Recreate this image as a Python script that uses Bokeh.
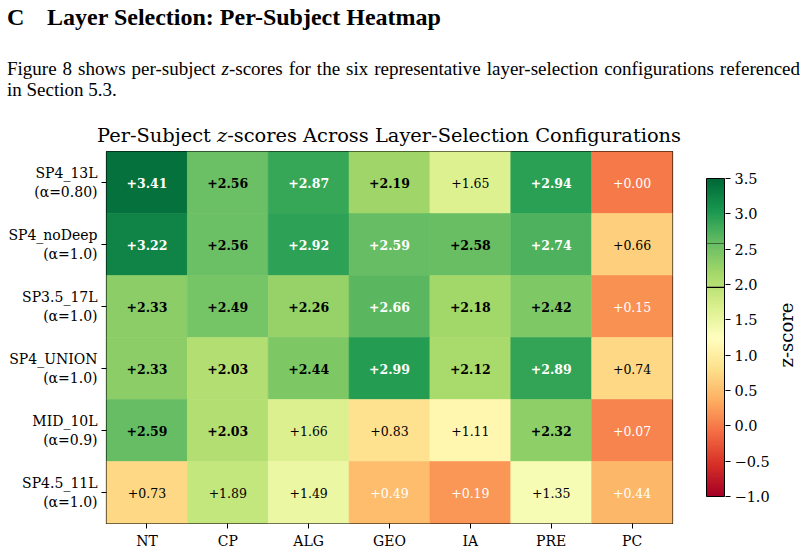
import numpy as np
from bokeh.plotting import figure
from bokeh.models import (ColumnDataSource, LinearColorMapper, FixedTicker,
                          Range1d, FactorRange, Div)
from bokeh.layouts import column, row
from bokeh.transform import transform
from bokeh.core.properties import value
from bokeh.embed import file_html
from bokeh.resources import INLINE

# ---------------- data ----------------
subjects = ["NT", "CP", "ALG", "GEO", "IA", "PRE", "PC"]
configs = [
    "SP4_13L\n(α=0.80)",
    "SP4_noDeep\n(α=1.0)",
    "SP3.5_17L\n(α=1.0)",
    "SP4_UNION\n(α=1.0)",
    "MID_10L\n(α=0.9)",
    "SP4.5_11L\n(α=1.0)",
]
z_sp4_13l = [3.41, 2.56, 2.87, 2.19, 1.65, 2.94, 0.00]
z_sp4_nodeep = [3.22, 2.56, 2.92, 2.594, 2.58, 2.74, 0.66]
z_sp35_17l = [2.33, 2.49, 2.26, 2.66, 2.18, 2.42, 0.15]
z_sp4_union = [2.33, 2.03, 2.44, 2.99, 2.12, 2.89, 0.74]
z_mid_10l = [2.59, 2.03, 1.66, 0.83, 1.11, 2.32, 0.07]
z_sp45_11l = [0.73, 1.89, 1.49, 0.49, 0.19, 1.35, 0.44]
z_rows = [z_sp4_13l, z_sp4_nodeep, z_sp35_17l, z_sp4_union, z_mid_10l, z_sp45_11l]

z_low, z_high = -1.0, 3.5
cbar_ticks = [-1.0, -0.5, 0.0, 0.5, 1.0, 1.5, 2.0, 2.5, 3.0, 3.5]
sig_levels = [1.96, 2.58]

# ---------------- colour map (RdYlGn) ----------------
anchors = ["#a50026", "#d73027", "#f46d43", "#fdae61", "#fee08b", "#ffffbf",
           "#d9ef8b", "#a6d96a", "#66bd63", "#1a9850", "#006837"]
rgb = np.array([[int(h[i:i + 2], 16) for i in (1, 3, 5)] for h in anchors], dtype=float)
pos = np.linspace(0, 1, len(anchors))
pal = []
for tt in np.linspace(0, 1, 256):
    c = [np.interp(tt, pos, rgb[:, k]) for k in range(3)]
    pal.append("#%02x%02x%02x" % tuple(int(round(v)) for v in c))
mapper = LinearColorMapper(palette=pal, low=z_low, high=z_high)

# ---------------- heatmap source ----------------
xs, ys, zs, labels, fstyles, tcolors = [], [], [], [], [], []
for cfg, vals in zip(configs, z_rows):
    for subj, v in zip(subjects, vals):
        xs.append(subj)
        ys.append(cfg)
        zs.append(v)
        labels.append("+%.2f" % v)
        fstyles.append("bold" if v >= 1.96 else "normal")
        tcolors.append("white" if (v > 2.59 or v < 0.5) else "black")
src = ColumnDataSource(dict(subject=xs, config=ys, z=zs, label=labels,
                            fstyle=fstyles, tcolor=tcolors))

FONT = "DejaVu Serif"
TOP_H = 147          # height of the text block above the plots
FIG_H = 553 - TOP_H
BORDER_TOP = 151 - TOP_H
BORDER_BOTTOM = 30

p = figure(width=690, height=FIG_H,
           x_range=FactorRange(*subjects), y_range=FactorRange(*configs[::-1]),
           output_backend="svg", toolbar_location=None, title=None,
           min_border_left=106, min_border_right=18,
           min_border_top=BORDER_TOP, min_border_bottom=BORDER_BOTTOM)
p.rect(x="subject", y="config", width=1, height=1, source=src,
       fill_color=transform("z", mapper), line_color=transform("z", mapper), line_width=0.6)
p.text(x="subject", y="config", text="label", source=src,
       text_align="center", text_baseline="middle",
       text_font=value(FONT), text_font_size="12.5px",
       text_font_style="fstyle", text_color="tcolor")

p.outline_line_color = "black"
p.outline_line_width = 1.2
p.grid.visible = False
p.background_fill_color = "white"
p.border_fill_color = "white"
for ax in (p.xaxis[0], p.yaxis[0]):
    ax.axis_line_color = None
    ax.major_tick_in = 0
    ax.major_tick_out = 5
    ax.major_tick_line_color = "black"
    ax.major_tick_line_width = 1
    ax.minor_tick_line_color = None
    ax.major_label_text_font = FONT
    ax.major_label_text_font_size = "14px"
    ax.major_label_text_color = "black"
    ax.major_label_standoff = 4
p.yaxis[0].major_label_text_align = "right"

# ---------------- colour bar figure ----------------
# frame spans canvas y 151..523; bar spans 178 (3.5) .. 496 (-1.0)
px_per_unit = (496 - 178) / (z_high - z_low)
y_top = z_high + (178 - 151) / px_per_unit
y_bot = z_low - (523 - 496) / px_per_unit
CB_W = 88
cb = figure(width=CB_W, height=FIG_H, x_range=Range1d(-1 / 18, 1 + 1 / 18),
            y_range=Range1d(y_bot, y_top),
            output_backend="svg", toolbar_location=None, title=None,
            x_axis_location=None, y_axis_location="right",
            min_border_left=15, min_border_right=CB_W - 15 - 20,
            min_border_top=BORDER_TOP, min_border_bottom=BORDER_BOTTOM)
grad = np.linspace(z_low, z_high, 450).reshape(-1, 1)
cb.image(image=[grad], x=0, y=z_low, dw=1, dh=z_high - z_low, color_mapper=mapper)
cb.segment(x0=[0], x1=[1], y0=[sig_levels[1]], y1=[sig_levels[1]],
           line_color="black", line_alpha=0.45, line_width=1)
cb.segment(x0=[0], x1=[1], y0=[sig_levels[0]], y1=[sig_levels[0]],
           line_color="black", line_width=1.2)
cb.quad(left=[0], right=[1], bottom=[z_low], top=[z_high], fill_color=None,
        line_color="black", line_width=1)
cb.grid.visible = False
cb.outline_line_color = None
cb.background_fill_color = "white"
cb.border_fill_color = "white"
ya = cb.yaxis[0]
ya.ticker = FixedTicker(ticks=cbar_ticks)
ya.major_label_overrides = {tk: ("%.1f" % tk).replace("-", "\u2212") for tk in cbar_ticks}
ya.axis_line_color = None
ya.major_tick_in = 0
ya.major_tick_out = 5
ya.major_tick_line_color = "black"
ya.minor_tick_line_color = None
ya.major_label_text_font = FONT
ya.major_label_text_font_size = "14.5px"
ya.major_label_text_color = "black"
ya.major_label_standoff = 4

# rotated colour-bar label
ZW = 804 - 690 - CB_W
zdiv = Div(text=(
    '<div style="position:relative;width:%dpx;height:%dpx;">'
    '<div style="position:absolute;left:%dpx;top:%.1fpx;transform:translate(-50%%,-50%%) rotate(-90deg);'
    "white-space:nowrap;font-family:'DejaVu Serif',serif;font-size:18px;line-height:18px;color:#000;\">z-score</div>"
    '</div>') % (ZW, FIG_H, 787 - 690 - CB_W, 335 - TOP_H),
    width=ZW, height=FIG_H, margin=0)

# ---------------- heading / paragraph / chart title ----------------
html = """
<div style="position:relative;width:804px;height:%dpx;font-family:'Liberation Serif','Times New Roman',serif;color:#000;">
  <div style="position:absolute;left:7px;top:5px;font-size:24px;line-height:24px;font-weight:bold;white-space:nowrap;">C</div>
  <div style="position:absolute;left:47px;top:5px;font-size:24px;line-height:24px;font-weight:bold;white-space:nowrap;">Layer Selection: Per-Subject Heatmap</div>
  <div style="position:absolute;left:7px;top:59px;width:793px;font-size:19px;line-height:19px;text-align:justify;text-align-last:justify;">Figure 8 shows per-subject <i>z</i>-scores for the six representative layer-selection configurations referenced</div>
  <div style="position:absolute;left:7px;top:80px;font-size:19px;line-height:19px;white-space:nowrap;">in Section 5.3.</div>
  <div style="position:absolute;left:0px;top:126px;width:778px;text-align:center;font-family:'DejaVu Serif',serif;font-size:19.4px;line-height:19.4px;white-space:nowrap;">Per-Subject <i>z</i>-scores Across Layer-Selection Configurations</div>
</div>
""" % TOP_H
div = Div(text=html, width=804, height=TOP_H, margin=0)

layout = column(div, row(p, cb, zdiv, spacing=0), spacing=0)

open("out.html", "w").write(file_html(layout, INLINE))
